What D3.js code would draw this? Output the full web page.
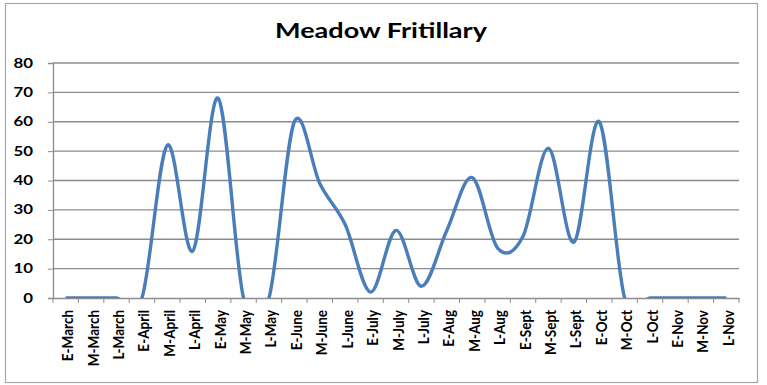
<!DOCTYPE html>
<html><head><meta charset="utf-8">
<script src="https://cdn.jsdelivr.net/npm/d3@7"></script>
<style>body{margin:0;background:#fff;}svg{display:block;font-family:Lato,"Open Sans",sans-serif;}</style>
</head><body>
<script>
const categories = ["E-March","M-March","L-March","E-April","M-April","L-April","E-May","M-May","L-May","E-June","M-June","L-June","E-July","M-July","L-July","E-Aug","M-Aug","L-Aug","E-Sept","M-Sept","L-Sept","E-Oct","M-Oct","L-Oct","E-Nov","M-Nov","L-Nov"];
const values = [0,0,0,0,52,16,68,0,0,60,39,25,2,23,4,23,41,17,21,51,19,60,0,0,0,0,0];
const yTicks = [0,10,20,30,40,50,60,70,80];
const title = "Meadow Fritillary";

const W = 767, H = 385;
const m = {left:53, right:28, top:63, bottom:87};
const svg = d3.select("body").append("svg").attr("width",W).attr("height",H);
svg.append("rect").attr("x",5.5).attr("y",3.5).attr("width",752).attr("height",379)
  .attr("fill","#fff").attr("stroke","#a6a6a6").attr("stroke-width",1.2);

const x = d3.scaleBand().domain(categories).range([m.left, W-m.right]).padding(0);
const y = d3.scaleLinear().domain([0,80]).range([H-m.bottom, m.top]);

svg.append("text").attr("x",275).attr("y",37.5)
  .attr("font-size",21).attr("font-weight","bold").attr("fill","#000")
  .attr("textLength",212).attr("lengthAdjust","spacingAndGlyphs").text(title);

// gridlines
svg.append("g").selectAll("line").data(yTicks.filter(d=>d>0)).join("line")
  .attr("x1",m.left).attr("x2",W-m.right).attr("y1",d=>y(d)).attr("y2",d=>y(d))
  .attr("stroke","#8c8c8c").attr("stroke-width",1.3);

// y axis
const ya = svg.append("g").attr("transform",`translate(${m.left},0)`)
  .call(d3.axisLeft(y).tickValues(yTicks).tickSize(5).tickFormat(""));
ya.select(".domain").attr("stroke","#8c8c8c").attr("stroke-width",1.3);
ya.selectAll(".tick line").attr("stroke","#8c8c8c");
svg.append("g").selectAll("text").data(yTicks).join("text")
  .attr("transform",d=>`translate(33,${y(d)}) scale(1.35,1)`)
  .attr("text-anchor","end").attr("dy","0.36em")
  .attr("font-size",12.5).attr("font-weight","bold").attr("fill","#000")
  .text(d=>d);

// x axis
const xa = svg.append("g").attr("transform",`translate(0,${y(0)})`)
  .call(d3.axisBottom(x).tickSize(0).tickPadding(0));
xa.select(".domain").attr("stroke","#8c8c8c").attr("stroke-width",1.3);
xa.selectAll(".tick text").attr("font-size",13.5).attr("font-weight","bold").attr("fill","#000")
  .attr("font-family","Lato,sans-serif")
  .attr("transform","scale(1.12,1) rotate(-90)").attr("text-anchor","end").attr("dy","0.35em").attr("x",-12).attr("y",2);
// boundary ticks
const bounds = categories.map(c=>x(c)).concat([x(categories[categories.length-1])+x.bandwidth()]);
xa.append("g").selectAll("line").data(bounds).join("line")
  .attr("x1",d=>d).attr("x2",d=>d).attr("y1",0).attr("y2",5)
  .attr("stroke","#8c8c8c").attr("stroke-width",1);

// clip
svg.append("clipPath").attr("id","clip").append("rect")
  .attr("x",m.left).attr("y",m.top-10).attr("width",W-m.right-m.left).attr("height",y(0)-m.top+10);

const line = d3.line().x((d,i)=>x(categories[i])+x.bandwidth()/2).y(d=>y(d))
  .curve(d3.curveCardinal.tension(0));
svg.append("path").datum(values).attr("d",line).attr("clip-path","url(#clip)")
  .attr("fill","none").attr("stroke","#4a7ebb").attr("stroke-width",3.4);
</script>
</body></html>
